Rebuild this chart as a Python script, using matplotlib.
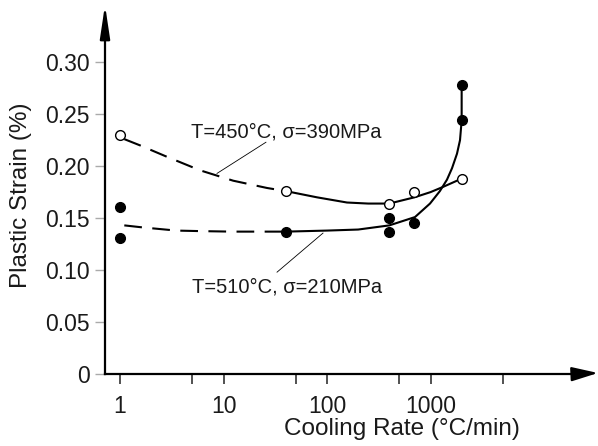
import matplotlib
matplotlib.use("Agg")
import matplotlib.pyplot as plt
from matplotlib.patches import FancyArrowPatch, ArrowStyle

plt.rcParams['font.family'] = ['Liberation Sans', 'DejaVu Sans']

# measured points
rate_450 = [1, 40, 400, 700, 2000]
strain_450 = [0.230, 0.176, 0.164, 0.175, 0.188]
rate_510 = [1, 1, 40, 400, 400, 700, 2000, 2000]
strain_510 = [0.161, 0.131, 0.137, 0.150, 0.137, 0.145, 0.244, 0.278]

# fitted trend curves
fit450_dash_x = [1.1, 1.56, 2.84, 5.93, 12.4, 26.3, 40]
fit450_dash_y = [0.226, 0.220, 0.209, 0.196, 0.186, 0.179, 0.176]
fit450_solid_x = [40, 80, 156, 250, 400, 700, 1000, 1320, 2000]
fit450_solid_y = [0.176, 0.170, 0.165, 0.164, 0.164, 0.170, 0.175, 0.180, 0.188]

fit510_dash_x = [1.1, 1.67, 3.5, 5.9, 12, 25, 40]
fit510_dash_y = [0.143, 0.141, 0.138, 0.1375, 0.137, 0.137, 0.137]
fit510_solid_x = [40, 100, 200, 400, 708, 989, 1232, 1443, 1614, 1803, 1928, 2000, 2000]
fit510_solid_y = [0.137, 0.138, 0.139, 0.143, 0.151, 0.164, 0.176, 0.187, 0.198, 0.212, 0.225, 0.244, 0.278]

xticks = [1, 10, 100, 1000]
xticklabels = ['1', '10', '100', '1000']
xminor = [5, 50, 500, 5000]
yticks = [0, 0.05, 0.10, 0.15, 0.20, 0.25, 0.30]
yticklabels = ['0', '0.05', '0.10', '0.15', '0.20', '0.25', '0.30']

W, H = 598, 446
fig = plt.figure(figsize=(W / 100, H / 100), dpi=100)
ax = fig.add_axes([105 / W, (H - 374) / H, 470 / W, 344 / H])

ax.set_xscale('log')
ax.set_xlim(0.716, 24900)
ax.set_ylim(0, 0.331)

dash = (0, (8.5, 5))
ax.plot(fit450_dash_x, fit450_dash_y, color='black', lw=1.5, ls=dash)
ax.plot(fit450_solid_x, fit450_solid_y, color='black', lw=1.5)
ax.plot(fit510_dash_x, fit510_dash_y, color='black', lw=1.5, ls=dash)
ax.plot(fit510_solid_x, fit510_solid_y, color='black', lw=1.5)

ax.plot(rate_450, strain_450, 'o', ms=7, mfc='white', mec='black', mew=1, zorder=5)
ax.plot(rate_510, strain_510, 'o', ms=7, mfc='black', mec='black', zorder=5)

# labels with leader lines
ax.text(4.85, 0.228, 'T=450°C, σ=390MPa', fontsize=14.5, color='#1a1a1a', va='baseline')
ax.plot([25.7, 8.65], [0.223, 0.193], color='black', lw=0.6)
ax.text(4.96, 0.0788, 'T=510°C, σ=210MPa', fontsize=14.5, color='#1a1a1a', va='baseline')
ax.plot([32.9, 91.5], [0.098, 0.1356], color='black', lw=0.6)

# axes styling
for s in ['top', 'right']:
    ax.spines[s].set_visible(False)
for s in ['left', 'bottom']:
    ax.spines[s].set_linewidth(1.6)
    ax.spines[s].set_color('black')

ax.set_xticks(xticks)
ax.set_xticklabels(xticklabels)
ax.set_xticks(xminor, minor=True)
ax.set_xticklabels([], minor=True)
ax.set_yticks(yticks)
ax.set_yticklabels(yticklabels)
ax.tick_params(axis='x', which='both', direction='out', length=7, width=1.2,
               color='#333333', labelsize=16.5, labelcolor='#1a1a1a', pad=8)
ax.tick_params(axis='y', direction='out', length=7, width=1, color='#aaaaaa',
               labelsize=16.5, labelcolor='#1a1a1a', pad=4)

# arrow heads on the axes
fig.patches.append(FancyArrowPatch((575, H - 374), (598, H - 373), transform=None,
                                   arrowstyle=ArrowStyle('-|>', head_length=16, head_width=4.3),
                                   mutation_scale=1, lw=1.6, color='black',
                                   shrinkA=0, shrinkB=0))
fig.patches.append(FancyArrowPatch((105, H - 30), (105, H - 5), transform=None,
                                   arrowstyle=ArrowStyle('-|>', head_length=20, head_width=3),
                                   mutation_scale=1, lw=1.6, color='black',
                                   shrinkA=0, shrinkB=0))

fig.text(402 / W, (H - 435) / H, 'Cooling Rate (°C/min)', fontsize=17.5,
         color='#1a1a1a', ha='center', va='baseline')
fig.text(21 / W, (H - 195) / H, 'Plastic Strain (%)', fontsize=17.5,
         color='#1a1a1a', ha='center', va='center', rotation=90)

fig.savefig('out.png', dpi=100)
